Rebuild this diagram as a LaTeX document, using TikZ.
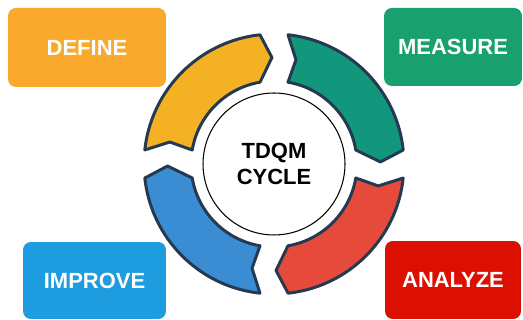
\documentclass[tikz,border=0pt]{standalone}
\usepackage{fontspec}
\setmainfont{Liberation Sans}

\definecolor{defbox}{HTML}{F9A92B}
\definecolor{measbox}{HTML}{18A06F}
\definecolor{impbox}{HTML}{1E9CE0}
\definecolor{anabox}{HTML}{DC1000}
\definecolor{ringy}{HTML}{F4B124}
\definecolor{ringg}{HTML}{12977C}
\definecolor{ringr}{HTML}{E64A3B}
\definecolor{ringb}{HTML}{3A8DD2}
\definecolor{rim}{HTML}{253A50}

\begin{document}
\begin{tikzpicture}[x=0.02cm,y=0.02cm]
	\tikzstyle{box}=[rectangle, rounded corners=4.5pt, inner sep=0pt, text=white,
		font=\bfseries\fontsize{12.5}{14}\selectfont]
	\tikzstyle{seg}=[draw=rim, line width=1.7pt, line join=round]
	\tikzstyle{hub}=[circle, draw=black, line width=0.6pt, fill=white, minimum size=2.84cm,
		align=center, font=\bfseries\fontsize{12.5}{14.5}\selectfont]

	\useasboundingbox (0,0) rectangle (523,320);

	% the four phases
	\node[box, fill=defbox, minimum width=3.16cm, minimum height=1.58cm] (define) at (87,272.5) {DEFINE};
	\node[box, fill=measbox, minimum width=2.76cm, minimum height=1.56cm] (measure) at (453,273) {MEASURE};
	\node[box, fill=impbox, minimum width=2.86cm, minimum height=1.54cm] (improve) at (94.5,39.5) {IMPROVE};
	\node[box, fill=anabox, minimum width=2.72cm, minimum height=1.56cm] (analyze) at (453,40) {ANALYZE};

	% ring of arrows, clockwise, notched tail and pointed head
	\coordinate (ctr) at (274,156);
	\foreach \a/\col in {180/ringy,90/ringg,0/ringr,-90/ringb}
	\draw[seg, fill=\col, shift={(ctr)}]
		(\a-6.2:2.6cm) arc[start angle=\a-6.2, end angle=\a-83.8, radius=2.6cm]
		-- (\a-88.9:2.13cm) -- (\a-80.3:1.66cm)
		arc[start angle=\a-80.3, end angle=\a-9.7, radius=1.66cm]
		-- (\a-11.9:2.13cm) -- cycle;

	\node[hub] (cycle) at (ctr) {TDQM\\CYCLE};
\end{tikzpicture}
\end{document}
